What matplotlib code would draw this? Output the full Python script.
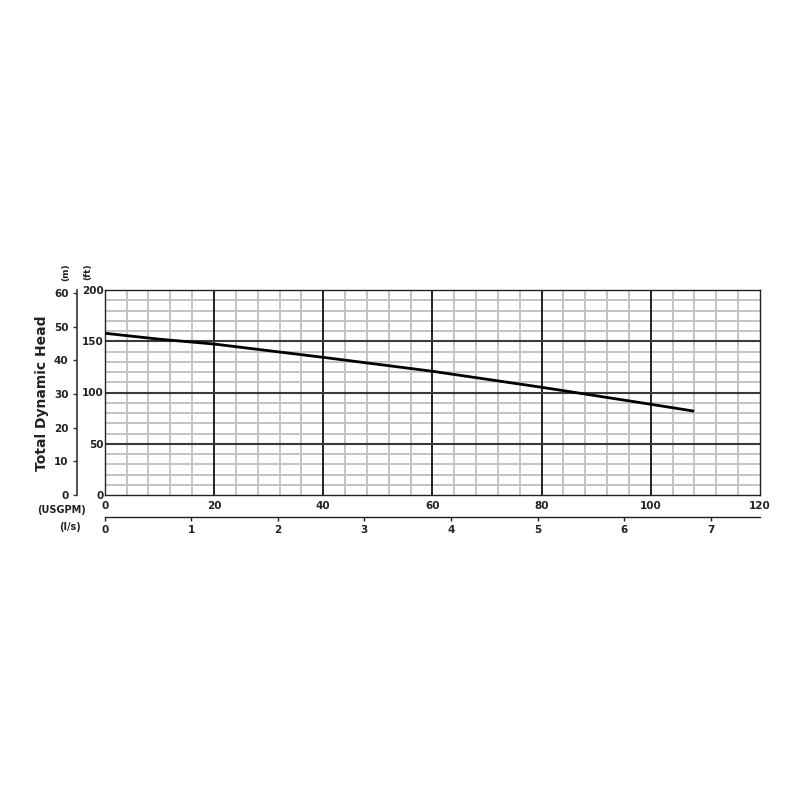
import numpy as np
import matplotlib.pyplot as plt
from matplotlib.ticker import MultipleLocator

# --- data ---
flow_gpm = [0, 10, 20, 40, 60, 80, 100, 107.7]
head_ft = [157.8, 152.0, 147.3, 134.3, 120.7, 105.1, 88.5, 82.0]

gpm_ticks = [0, 20, 40, 60, 80, 100, 120]
ft_ticks = [0, 50, 100, 150, 200]
m_ticks = [0, 10, 20, 30, 40, 50, 60]
ls_ticks = [0, 1, 2, 3, 4, 5, 6, 7]

FT_TO_M = 0.3048
GPM_TO_LS = 0.0630902

fig = plt.figure(figsize=(8, 8), dpi=100)
ax = fig.add_axes([0.131, 0.38125, 0.819, 0.25625])

ax.set_xlim(0, 120)
ax.set_ylim(0, 200)

# light minor grid
ax.xaxis.set_minor_locator(MultipleLocator(4))
ax.yaxis.set_minor_locator(MultipleLocator(10))
ax.grid(which='minor', color='#c4c4c4', linewidth=1.4, zorder=0)
ax.set_axisbelow(True)

# heavy major grid on top of minor grid
for g in gpm_ticks[1:-1]:
    ax.axvline(g, color='#111111', linewidth=1.3, zorder=1)
for f in ft_ticks[1:-1]:
    ax.axhline(f, color='#3a3a3a', linewidth=1.5, zorder=1)

ax.plot(flow_gpm, head_ft, color='black', linewidth=2.0, zorder=3)

for s in ax.spines.values():
    s.set_color('#222222')
    s.set_linewidth(1.0)

tick_font = dict(fontsize=7.5, fontweight='bold', color='#222222')
ax.set_xticks(gpm_ticks)
ax.set_xticklabels([str(t) for t in gpm_ticks], **tick_font)
ax.set_yticks(ft_ticks)
ax.set_yticklabels([str(t) for t in ft_ticks], **tick_font)
ax.tick_params(which='both', length=0)
ax.tick_params(axis='x', pad=4)
ax.tick_params(axis='y', pad=1)

# metres axis on the left, offset
ax_m = ax.twinx()
ax_m.set_ylim(0, 200 * FT_TO_M)
ax_m.yaxis.set_ticks_position('left')
ax_m.spines['left'].set_position(('axes', -0.0427))
ax_m.spines['left'].set_visible(True)
ax_m.spines['left'].set_color('#333333')
ax_m.spines['left'].set_linewidth(1.2)
for side in ['right', 'top', 'bottom']:
    ax_m.spines[side].set_visible(False)
ax_m.set_yticks(m_ticks)
ax_m.set_yticklabels([str(t) for t in m_ticks], **tick_font)
ax_m.tick_params(axis='y', length=3, width=1, pad=3, color='#333333')

# l/s axis below
ax_ls = ax.secondary_xaxis(-0.107, functions=(lambda g: g * GPM_TO_LS,
                                               lambda l: l / GPM_TO_LS))
ax_ls.set_xticks(ls_ticks)
ax_ls.set_xticklabels([str(t) for t in ls_ticks], **tick_font)
ax_ls.spines['bottom'].set_color('#222222')
ax_ls.spines['bottom'].set_linewidth(1.0)
ax_ls.tick_params(axis='x', length=3, width=1, pad=3, color='#222222')

# labels
fig.text(0.052, 0.508, 'Total Dynamic Head', rotation=90, ha='center', va='center',
         fontsize=10, fontweight='bold', color='#222222')
fig.text(0.082, 0.66, '(m)', rotation=90, ha='center', va='center',
         fontsize=6.5, fontweight='bold', color='#222222')
fig.text(0.11, 0.66, '(ft)', rotation=90, ha='center', va='center',
         fontsize=6.5, fontweight='bold', color='#222222')
fig.text(0.077, 0.3625, '(USGPM)', ha='center', va='center',
         fontsize=7, fontweight='bold', color='#222222')
fig.text(0.088, 0.341, '(l/s)', ha='center', va='center',
         fontsize=7, fontweight='bold', color='#222222')

fig.savefig('out.png', dpi=100, facecolor='white')
